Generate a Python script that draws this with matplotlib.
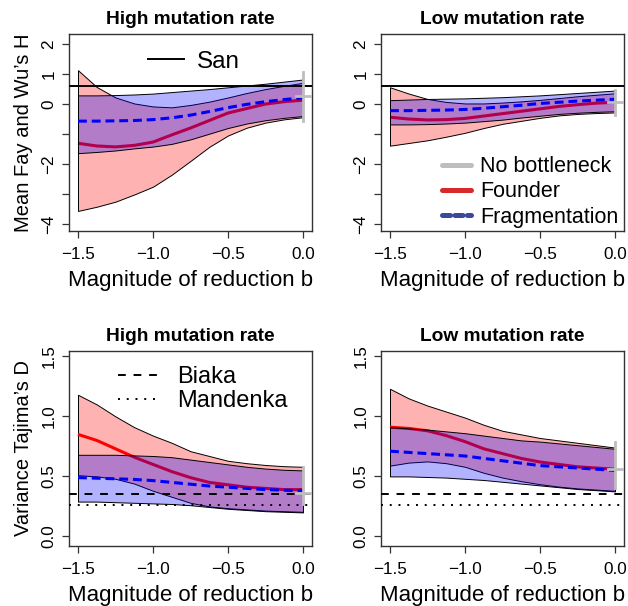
import matplotlib
matplotlib.use("Agg")
from matplotlib import pyplot as plt
from matplotlib.lines import Line2D

plt.rcParams['font.family'] = ['Liberation Sans', 'DejaVu Sans']

# magnitude of reduction b
b = [-1.5, -1.375, -1.25, -1.125, -1.0, -0.875, -0.75, -0.625, -0.5, -0.375, -0.25, -0.125, 0.0]

# Fay and Wu's H, high mutation rate
h_hi_found_mean = [-1.31, -1.40, -1.43, -1.38, -1.27, -1.03, -0.80, -0.55, -0.30, -0.15, 0.00, 0.08, 0.13]
h_hi_found_lo = [-3.57, -3.43, -3.26, -3.02, -2.76, -2.36, -1.90, -1.43, -1.05, -0.79, -0.62, -0.51, -0.44]
h_hi_found_up = [1.13, 0.57, 0.22, 0.02, -0.08, -0.11, -0.03, 0.08, 0.22, 0.37, 0.50, 0.61, 0.71]
h_hi_frag_mean = [-0.57, -0.57, -0.56, -0.55, -0.52, -0.46, -0.37, -0.25, -0.12, -0.01, 0.08, 0.15, 0.21]
h_hi_frag_lo = [-1.64, -1.60, -1.55, -1.48, -1.42, -1.33, -1.18, -0.99, -0.80, -0.65, -0.54, -0.46, -0.40]
h_hi_frag_up = [0.29, 0.29, 0.30, 0.32, 0.35, 0.40, 0.45, 0.50, 0.56, 0.62, 0.68, 0.75, 0.82]

# Fay and Wu's H, low mutation rate
h_lo_found_mean = [-0.44, -0.50, -0.53, -0.52, -0.48, -0.40, -0.32, -0.24, -0.16, -0.08, -0.02, 0.03, 0.06]
h_lo_found_lo = [-1.39, -1.30, -1.21, -1.09, -0.96, -0.80, -0.66, -0.56, -0.46, -0.38, -0.33, -0.30, -0.28]
h_lo_found_up = [0.56, 0.35, 0.17, 0.07, 0.02, 0.02, 0.05, 0.09, 0.14, 0.20, 0.26, 0.31, 0.36]
h_lo_frag_mean = [-0.22, -0.22, -0.21, -0.20, -0.18, -0.14, -0.09, -0.04, 0.02, 0.06, 0.10, 0.13, 0.16]
h_lo_frag_lo = [-0.68, -0.68, -0.67, -0.65, -0.62, -0.57, -0.52, -0.45, -0.39, -0.33, -0.29, -0.26, -0.24]
h_lo_frag_up = [0.13, 0.15, 0.17, 0.18, 0.19, 0.21, 0.23, 0.26, 0.29, 0.33, 0.37, 0.41, 0.45]

# variance of Tajima's D, high mutation rate
d_hi_found_mean = [0.85, 0.80, 0.73, 0.66, 0.60, 0.54, 0.49, 0.45, 0.43, 0.41, 0.40, 0.39, 0.39]
d_hi_found_lo = [0.51, 0.50, 0.48, 0.44, 0.38, 0.33, 0.28, 0.25, 0.235, 0.225, 0.215, 0.21, 0.205]
d_hi_found_up = [1.18, 1.10, 1.00, 0.91, 0.84, 0.78, 0.71, 0.67, 0.63, 0.61, 0.595, 0.585, 0.58]
d_hi_frag_mean = [0.49, 0.485, 0.48, 0.475, 0.465, 0.45, 0.435, 0.42, 0.41, 0.40, 0.39, 0.385, 0.38]
d_hi_frag_lo = [0.29, 0.29, 0.285, 0.28, 0.275, 0.27, 0.26, 0.245, 0.23, 0.22, 0.21, 0.205, 0.20]
d_hi_frag_up = [0.68, 0.68, 0.68, 0.675, 0.67, 0.66, 0.64, 0.62, 0.60, 0.58, 0.565, 0.555, 0.55]

# variance of Tajima's D, low mutation rate
d_lo_found_mean = [0.91, 0.90, 0.88, 0.84, 0.79, 0.73, 0.69, 0.65, 0.62, 0.60, 0.58, 0.57, 0.56]
d_lo_found_lo = [0.59, 0.615, 0.625, 0.61, 0.58, 0.53, 0.49, 0.46, 0.435, 0.415, 0.40, 0.39, 0.38]
d_lo_found_up = [1.23, 1.15, 1.09, 1.04, 0.99, 0.93, 0.88, 0.85, 0.82, 0.80, 0.78, 0.76, 0.74]
d_lo_frag_mean = [0.71, 0.70, 0.69, 0.68, 0.67, 0.65, 0.63, 0.61, 0.59, 0.58, 0.57, 0.56, 0.55]
d_lo_frag_lo = [0.50, 0.50, 0.495, 0.49, 0.48, 0.47, 0.455, 0.44, 0.425, 0.41, 0.395, 0.385, 0.375]
d_lo_frag_up = [0.91, 0.90, 0.89, 0.875, 0.86, 0.84, 0.82, 0.80, 0.79, 0.775, 0.76, 0.745, 0.73]

# no bottleneck (b = 0): mean, lower, upper
nobn = {"h_hi": (0.27, -0.58, 1.07), "h_lo": (0.08, -0.37, 0.47),
        "d_hi": (0.36, 0.27, 0.58), "d_lo": (0.56, 0.40, 0.79)}

# observed values
san_h = 0.59
biaka_d = 0.35
mandenka_d = 0.26

h_ticks = [-4, -3, -2, -1, 0, 1, 2]
h_ticklabels = ["\u22124", "", "\u22122", "", "0", "1", "2"]
d_ticks = [0.0, 0.5, 1.0, 1.5]
d_ticklabels = ["0.0", "0.5", "1.0", "1.5"]
b_ticks = [-1.5, -1.0, -0.5, 0.0]
b_ticklabels = ["\u22121.5", "\u22121.0", "\u22120.5", "0.0"]

W, H = 628, 606
fig = plt.figure(figsize=(W / 100, H / 100), dpi=100)


def panel(rect, found, frag, nb, ylim, yticks, yticklabels, title):
    ax = fig.add_axes(rect)
    f_mean, f_lo, f_up = found
    g_mean, g_lo, g_up = frag
    ax.fill_between(b, f_lo, f_up, facecolor=(1, 0, 0, 0.3), edgecolor="black", linewidth=0.7, zorder=1)
    ax.plot(b, f_mean, color="red", lw=2.2, solid_capstyle="butt", zorder=2)
    ax.fill_between(b, g_lo, g_up, facecolor=(0, 0, 1, 0.3), edgecolor="black", linewidth=0.7, zorder=3)
    ax.plot(b, g_mean, color="blue", lw=2.2, dashes=(2.9, 1.6), dash_capstyle="butt", zorder=4)
    m, lo, hi = nb
    ax.plot([0, 0], [lo, hi], color="#bebebe", lw=2, zorder=6)
    ax.plot([-0.05, 0.12], [m, m], color="#bebebe", lw=2, zorder=6)
    ax.set_xlim(-1.56, 0.06)
    ax.set_ylim(*ylim)
    ax.set_xticks(b_ticks)
    ax.set_xticklabels(b_ticklabels)
    ax.set_yticks(yticks)
    ax.set_yticklabels(yticklabels, rotation=90, va="center")
    ax.tick_params(direction="out", length=5, width=0.9, labelsize=12.3, color="#333333")
    ax.tick_params(axis="x", pad=6.5)
    ax.tick_params(axis="y", pad=4)
    for s in ax.spines.values():
        s.set_color("#333333")
        s.set_linewidth(1.0)
    ax.set_title(title, fontweight="bold", fontsize=13.8, pad=7)
    ax.set_xlabel("Magnitude of reduction b", fontsize=16, labelpad=6)
    return ax


x_l, x_r, aw = 69 / W, 381 / W, 243 / W
y_t, ah_t = (H - 231) / H, 197 / H
y_b, ah_b = (H - 546) / H, 195 / H
h_lim = (-4.24, 2.34)
d_lim = (-0.08, 1.545)

ax1 = panel([x_l, y_t, aw, ah_t], (h_hi_found_mean, h_hi_found_lo, h_hi_found_up),
            (h_hi_frag_mean, h_hi_frag_lo, h_hi_frag_up), nobn["h_hi"], h_lim,
            h_ticks, h_ticklabels, "High mutation rate")
ax2 = panel([x_r, y_t, aw, ah_t], (h_lo_found_mean, h_lo_found_lo, h_lo_found_up),
            (h_lo_frag_mean, h_lo_frag_lo, h_lo_frag_up), nobn["h_lo"], h_lim,
            h_ticks, h_ticklabels, "Low mutation rate")
ax3 = panel([x_l, y_b, aw, ah_b], (d_hi_found_mean, d_hi_found_lo, d_hi_found_up),
            (d_hi_frag_mean, d_hi_frag_lo, d_hi_frag_up), nobn["d_hi"], d_lim,
            d_ticks, d_ticklabels, "High mutation rate")
ax4 = panel([x_r, y_b, aw, ah_b], (d_lo_found_mean, d_lo_found_lo, d_lo_found_up),
            (d_lo_frag_mean, d_lo_frag_lo, d_lo_frag_up), nobn["d_lo"], d_lim,
            d_ticks, d_ticklabels, "Low mutation rate")

ax1.set_ylabel("Mean Fay and Wu\u2019s H", fontsize=14.5, labelpad=6)
ax3.set_ylabel("Variance Tajima\u2019s D", fontsize=14.5, labelpad=6)

# observed reference lines
san = []
for ax in (ax1, ax2):
    san.append(ax.axhline(san_h, color="black", lw=1.4, zorder=5))
bi, ma = [], []
for ax in (ax3, ax4):
    bi.append(ax.axhline(biaka_d, color="black", lw=1.4, ls=(0, (4, 4)), zorder=5))
    ma.append(ax.axhline(mandenka_d, color="black", lw=1.4, ls=(0, (1, 3.5)), zorder=5))

ax1.legend([san[0]], ["San"], loc="center left", bbox_to_anchor=(0.325, 0.858),
           frameon=False, fontsize=17.5, handlelength=1.5, handletextpad=0.5,
           borderpad=0, borderaxespad=0)

ax3.legend([bi[0], ma[0]], ["Biaka", "Mandenka"], loc="center left",
           bbox_to_anchor=(0.2, 0.805), frameon=False, fontsize=17,
           handlelength=1.75, handletextpad=0.75, labelspacing=0.1,
           borderpad=0, borderaxespad=0)

handles = [Line2D([], [], color="#bebebe", lw=3.6, solid_capstyle="round"),
           Line2D([], [], color="#d82a2a", lw=3.6, solid_capstyle="round"),
           Line2D([], [], color="#3a4a9a", lw=3.6, dashes=(1.6, 0.9), dash_capstyle="round")]
ax2.legend(handles, ["No bottleneck", "Founder", "Fragmentation"], loc="center left",
           bbox_to_anchor=(0.25, 0.198), frameon=False, fontsize=15.5,
           handlelength=1.35, handletextpad=0.45, labelspacing=0.2,
           borderpad=0, borderaxespad=0)

plt.savefig("out.png", dpi=100)
